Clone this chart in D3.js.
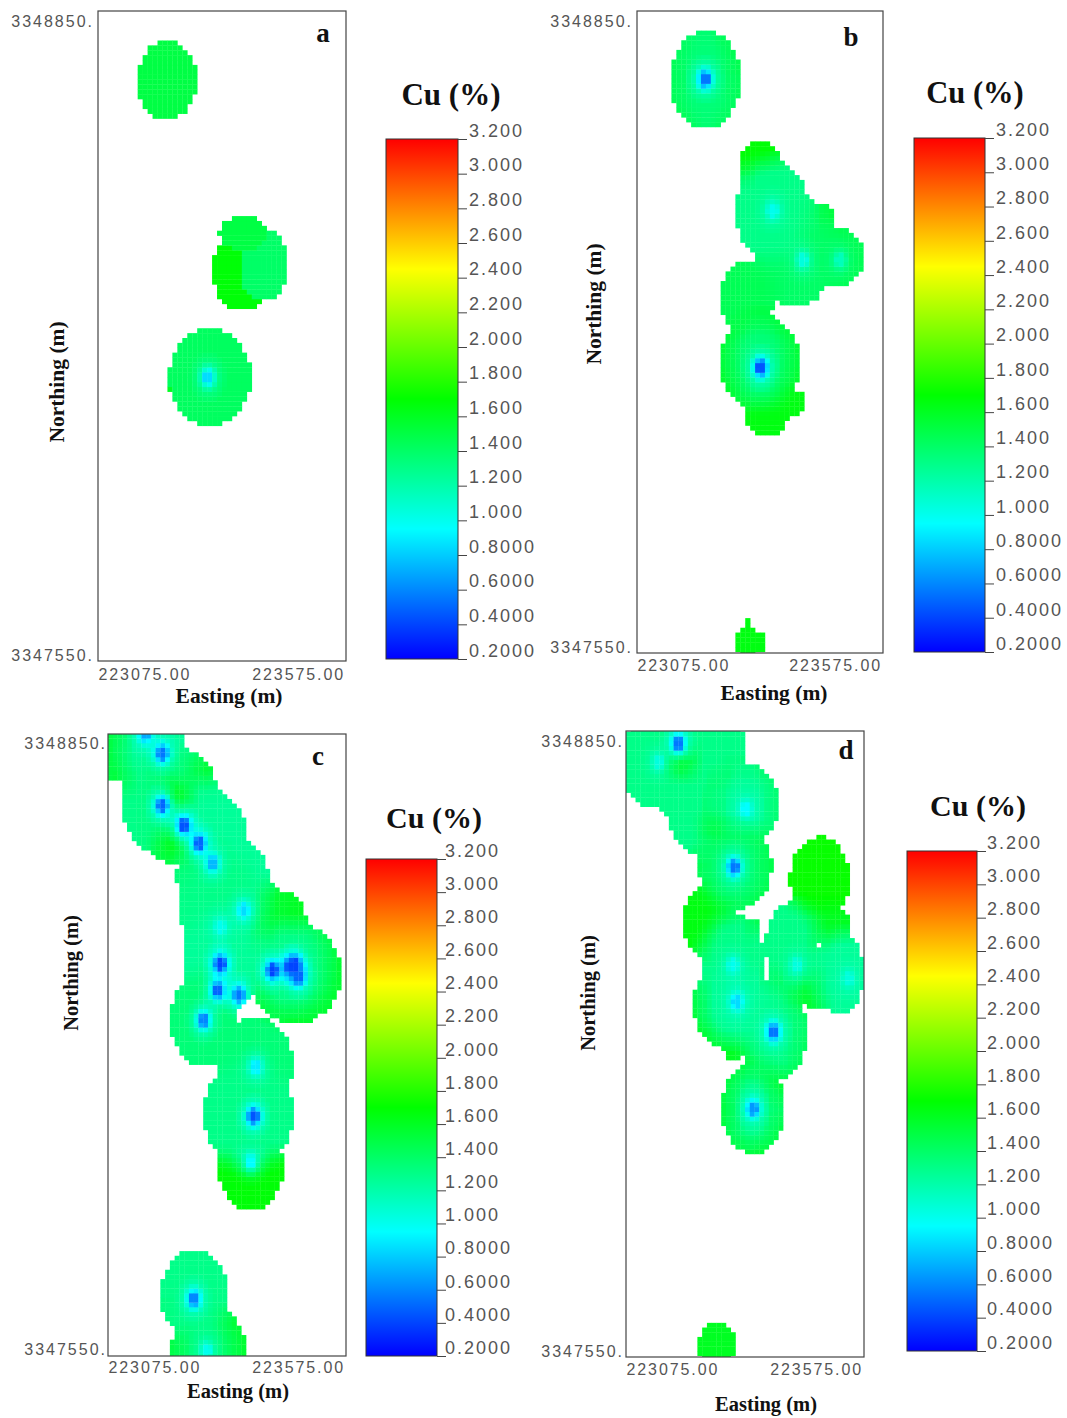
<!DOCTYPE html>
<html>
<head>
<meta charset="utf-8">
<title>Cu (%) block models</title>
<script src="https://cdnjs.cloudflare.com/ajax/libs/d3/7.8.5/d3.min.js"></script>
<style>
	html, body { margin: 0; padding: 0; background: #fff; }
	svg { display: block; }
	.num text { font-family: "Liberation Sans", Arial, sans-serif; fill: #555; }
	.serif { font-family: "Liberation Serif", "Times New Roman", serif; font-weight: bold; fill: #111; }
</style>
</head>
<body>
<svg id="chart" width="1067" height="1418"></svg>
<script>
// values
var eastingTicks = [223075, 223575];
var northingTicks = [3348850, 3347550];
var legendTicks = [3.2, 3.0, 2.8, 2.6, 2.4, 2.2, 2.0, 1.8, 1.6, 1.4, 1.2, 1.0, 0.8, 0.6, 0.4, 0.2];
var colorStops = [0.2, 0.95, 1.7, 2.45, 3.2];
var colorRange = ["#0000ff", "#00ffff", "#00ff00", "#ffff00", "#ff0000"];
var blockSize = 10; // metres

// grade zones, painted in order: easting, northing, radius E, radius N, Cu
var zonesA = [
	[223214, 3348729, 60, 82, 1.5],
	[223365, 3348338, 60, 82, 1.68],
	[223408, 3348350, 48, 74, 1.4],
	[223367, 3348415, 48, 35, 1.5],
	[223232, 3348110, 18, 26, 1.6],
	[223301, 3348120, 82, 100, 1.42]
];
var zonesB = [
	[223214, 3348728, 71, 102, 1.6],
	[223214, 3348728, 60, 100, 1.35],
	[223325, 3348541, 42, 62, 1.68],
	[223447, 3348430, 30, 42, 1.6],
	[223478, 3348358, 58, 62, 1.45],
	[223396, 3348374, 82, 118, 1.4],
	[223349, 3348457, 74, 105, 1.3],
	[223299, 3348277, 56, 75, 1.45],
	[223339, 3348046, 48, 58, 1.65],
	[223396, 3348057, 20, 27, 1.65],
	[223325, 3348142, 82, 98, 1.6],
	[223325, 3348142, 60, 85, 1.35],
	[223303, 3347560, 33, 28, 1.65],
	[223297, 3347595, 6, 15, 1.65]
];
var zonesC = [
	[223122, 3348749, 21, 21, 1.65],
	[223111, 3348835, 77, 68, 1.5],
	[223174, 3348835, 66, 93, 1.25],
	[223188, 3348714, 84, 100, 1.3],
	[223227, 3348756, 74, 79, 1.35],
	[223216, 3348664, 66, 75, 1.35],
	[223244, 3348699, 77, 93, 1.3],
	[223293, 3348642, 77, 100, 1.25],
	[223468, 3348356, 98, 107, 1.55],
	[223444, 3348456, 49, 75, 1.6],
	[223405, 3348478, 56, 72, 1.55],
	[223461, 3348370, 77, 93, 1.3],
	[223321, 3348563, 91, 93, 1.25],
	[223282, 3348563, 63, 71, 1.35],
	[223279, 3348499, 52, 93, 1.3],
	[223314, 3348492, 88, 122, 1.3],
	[223314, 3348385, 80, 114, 1.25],
	[223276, 3348256, 70, 100, 1.35],
	[223375, 3347941, 68, 93, 1.68],
	[223384, 3348163, 80, 100, 1.35],
	[223370, 3348056, 95, 114, 1.3],
	[223220, 3348742, 25, 36, 1.6],
	[223206, 3348631, 28, 32, 1.6],
	[223269, 3348789, 18, 21, 1.6],
	[223286, 3347548, 79, 93, 1.55],
	[223282, 3347540, 56, 79, 1.35],
	[223240, 3347655, 56, 64, 1.6],
	[223256, 3347669, 70, 93, 1.3]
];
var zonesD = [
	[223139, 3348806, 77, 99, 1.3],
	[223251, 3348834, 77, 92, 1.3],
	[223184, 3348778, 63, 92, 1.3],
	[223237, 3348728, 80, 121, 1.3],
	[223192, 3348806, 28, 28, 1.6],
	[223279, 3348763, 18, 21, 1.6],
	[223251, 3348671, 14, 21, 1.55],
	[223482, 3348557, 63, 89, 1.72],
	[223426, 3348359, 49, 78, 1.65],
	[223475, 3348344, 42, 64, 1.55],
	[223496, 3348458, 49, 43, 1.6],
	[223423, 3348415, 56, 92, 1.3],
	[223524, 3348355, 50, 89, 1.25],
	[223325, 3348714, 70, 89, 1.55],
	[223325, 3348714, 60, 82, 1.25],
	[223251, 3348465, 56, 82, 1.65],
	[223304, 3348582, 77, 92, 1.55],
	[223304, 3348582, 65, 80, 1.35],
	[223342, 3348430, 18, 43, 1.65],
	[223272, 3348288, 56, 85, 1.6],
	[223300, 3348202, 21, 35, 1.6],
	[223300, 3348373, 67, 107, 1.3],
	[223384, 3348231, 72, 106, 1.55],
	[223384, 3348231, 60, 95, 1.3],
	[223307, 3348295, 74, 89, 1.25],
	[223342, 3348067, 67, 96, 1.6],
	[223342, 3348067, 50, 82, 1.3],
	[223266, 3347563, 40, 49, 1.6]
];

// drill hole grades: easting, northing, Cu
var holesA = [[223297, 3348120, 0.85]];
var holesB = [
	[223213, 3348730, 0.55], [223351, 3348457, 1.0], [223412, 3348354, 1.05],
	[223488, 3348354, 1.15], [223327, 3348131, 0.45]
];
var holesC = [
	[223189, 3348828, 0.55], [223189, 3348717, 0.5], [223234, 3348674, 0.45], [223267, 3348635, 0.5],
	[223295, 3348593, 0.75], [223360, 3348492, 0.85], [223311, 3348456, 1.0], [223311, 3348377, 0.4],
	[223306, 3348320, 0.5], [223350, 3348310, 0.55], [223276, 3348256, 0.6], [223421, 3348363, 0.4],
	[223458, 3348370, 0.45], [223468, 3348374, 0.4], [223475, 3348349, 0.5], [223386, 3348156, 0.9],
	[223381, 3348050, 0.45], [223375, 3347952, 0.95], [223153, 3348871, 0.7],
	[223256, 3347658, 0.6], [223282, 3347548, 1.0]
];
var holesD = [
	[223185, 3348845, 0.55], [223143, 3348806, 1.05], [223327, 3348706, 0.95], [223302, 3348582, 0.55],
	[223300, 3348373, 1.0], [223308, 3348295, 0.85], [223385, 3348231, 0.55], [223342, 3348067, 0.65],
	[223433, 3348373, 1.05], [223542, 3348344, 1.05]
];

// how far a hole's grade carries into its zone (share of the halo radius -> weight)
var haloReach = [0, 0.2, 0.35, 0.6, 1];
var haloWeight = [1, 1, 0.5, 0.15, 0];
var haloE = 40, haloN = 55;

// page layout of the four panels
var panels = [
	{ name: "a", zones: zonesA, holes: holesA, smooth: 0, labelSize: 21.5, titleSize: 31, left: 98, right: 346, top: 11, bottom: 661, yHigh: 21, yLow: 655, yPad: 4, xLabel: 675, eastX: 229, eastY: 696, northX: 57, northY: 382, markX: 323, markY: 34, titleX: 451, titleY: 95, barL: 386, barR: 458, barT: 139, barB: 659, barGap: 11 },
	{ name: "b", zones: zonesB, holes: holesB, smooth: 2, labelSize: 21.5, titleSize: 30.5, left: 637, right: 883, top: 11, bottom: 653, yHigh: 21, yLow: 647, yPad: 4, xLabel: 666, eastX: 774, eastY: 693, northX: 594, northY: 304, markX: 851, markY: 38, titleX: 975, titleY: 93, barL: 914, barR: 985, barT: 138, barB: 652, barGap: 11 },
	{ name: "c", zones: zonesC, holes: holesC, smooth: 2, labelSize: 20.5, titleSize: 30, left: 108, right: 346, top: 734, bottom: 1356, yHigh: 743, yLow: 1349, yPad: 1, xLabel: 1368, eastX: 238, eastY: 1391, northX: 71, northY: 973, markX: 318, markY: 757, titleX: 434, titleY: 818, barL: 366, barR: 437, barT: 859, barB: 1356, barGap: 8 },
	{ name: "d", zones: zonesD, holes: holesD, smooth: 2, labelSize: 20.5, titleSize: 30, left: 626, right: 864, top: 731, bottom: 1357, yHigh: 741, yLow: 1351, yPad: 2, xLabel: 1370, eastX: 766, eastY: 1404, northX: 588, northY: 993, markX: 846, markY: 751, titleX: 978, titleY: 806, barL: 907, barR: 977, barT: 851, barB: 1351, barGap: 10 }
];

var svg = d3.select("#chart");
var color = d3.scaleLinear().domain(colorStops).range(colorRange);
var halo = d3.scaleLinear().domain(haloReach).range(haloWeight).clamp(true);

var defs = svg.append("defs");
var grad = defs.append("linearGradient").attr("id", "cuRamp").attr("x1", 0).attr("y1", 1).attr("x2", 0).attr("y2", 0);
colorStops.forEach(function(s, i) {
	grad.append("stop").attr("offset", (s - 0.2) / 3).attr("stop-color", colorRange[i]);
});

function blockGrades(p, x, y) {
	var nStart = Math.floor(y.invert(p.bottom) / blockSize) * blockSize;
	var nEnd = y.invert(p.top);
	var eCols = d3.range(eastingTicks[0], eastingTicks[1], blockSize);
	var nRows = d3.range(nStart, nEnd, blockSize);
	var grid = new Map();
	var key = function(i, j) { return i + "_" + j; };

	eCols.forEach(function(e, i) {
		nRows.forEach(function(n, j) {
			var ce = e + blockSize / 2, cn = n + blockSize / 2, cu = null;
			p.zones.forEach(function(z) {
				var dx = (ce - z[0]) / z[2], dy = (cn - z[1]) / z[3];
				if (dx * dx + dy * dy <= 1) cu = z[4];
			});
			if (cu !== null) grid.set(key(i, j), cu);
		});
	});

	// zone edges run soft inside the ore body, the outline stays blocky
	var cells = [];
	eCols.forEach(function(e, i) {
		nRows.forEach(function(n, j) {
			if (!grid.has(key(i, j))) return;
			var near = [];
			d3.range(-p.smooth, p.smooth + 1).forEach(function(a) {
				d3.range(-p.smooth, p.smooth + 1).forEach(function(b) {
					if (grid.has(key(i + a, j + b))) near.push(grid.get(key(i + a, j + b)));
				});
			});
			var cu = d3.mean(near);
			var ce = e + blockSize / 2, cn = n + blockSize / 2;
			p.holes.forEach(function(h) {
				var dx = (ce - h[0]) / haloE, dy = (cn - h[1]) / haloN;
				var w = halo(Math.sqrt(dx * dx + dy * dy));
				cu = Math.min(cu, cu + (h[2] - cu) * w);
			});
			cells.push({ e: e, n: n, cu: cu });
		});
	});
	return cells;
}

function drawPanel(p) {
	var g = svg.append("g").attr("id", "panel-" + p.name);
	var x = d3.scaleLinear().domain(eastingTicks).range([p.left, p.right]);
	var y = d3.scaleLinear().domain([northingTicks[1], northingTicks[0]]).range([p.yLow, p.yHigh]);

	defs.append("clipPath").attr("id", "clip-" + p.name)
		.append("rect")
		.attr("x", p.left).attr("y", p.top)
		.attr("width", p.right - p.left).attr("height", p.bottom - p.top);

	g.append("g").attr("clip-path", "url(#clip-" + p.name + ")")
		.append("g").style("filter", "blur(0.6px)")
		.selectAll("rect")
		.data(blockGrades(p, x, y))
		.enter().append("rect")
		.attr("x", function(d) { return x(d.e); })
		.attr("y", function(d) { return y(d.n + blockSize); })
		.attr("width", function(d) { return x(d.e + blockSize) - x(d.e) + 0.3; })
		.attr("height", function(d) { return y(d.n) - y(d.n + blockSize) + 0.3; })
		.attr("fill", function(d) { return color(d.cu); });

	g.append("rect")
		.attr("x", p.left).attr("y", p.top)
		.attr("width", p.right - p.left).attr("height", p.bottom - p.top)
		.attr("fill", "none").attr("stroke", "#444").attr("stroke-width", 1.2);

	var yAxis = g.append("g").attr("class", "num")
		.attr("transform", "translate(" + p.left + ",0)")
		.call(d3.axisLeft(y).tickValues(northingTicks).tickSize(0).tickPadding(p.yPad).tickFormat(function(d) { return d + "."; }));
	yAxis.select(".domain").remove();
	yAxis.selectAll("text").style("font-size", "16px").style("letter-spacing", "2px");

	var xAxis = g.append("g").attr("class", "num")
		.attr("transform", "translate(0," + p.bottom + ")")
		.call(d3.axisBottom(x).tickValues(eastingTicks).tickSize(0).tickPadding(p.xLabel - p.bottom - 6).tickFormat(function(d) { return d + ".00"; }));
	xAxis.select(".domain").remove();
	xAxis.selectAll("text")
		.style("font-size", "16px").style("letter-spacing", "1.9px")
		.attr("dx", function(d, i) { return i === 0 ? 0 : -1.5; })
		.attr("text-anchor", function(d, i) { return i === 0 ? "start" : "end"; });

	g.append("text").attr("class", "serif")
		.attr("x", p.eastX).attr("y", p.eastY).attr("dy", "0.32em")
		.attr("text-anchor", "middle").style("font-size", p.labelSize + "px")
		.text("Easting (m)");
	g.append("text").attr("class", "serif")
		.attr("transform", "translate(" + p.northX + "," + p.northY + ") rotate(-90)")
		.attr("dy", "0.32em").attr("text-anchor", "middle").style("font-size", p.labelSize + "px")
		.text("Northing (m)");
	g.append("text").attr("class", "serif")
		.attr("x", p.markX).attr("y", p.markY).attr("dy", "0.3em")
		.attr("text-anchor", "middle").style("font-size", "27px")
		.text(p.name);
	g.append("text").attr("class", "serif")
		.attr("x", p.titleX).attr("y", p.titleY).attr("dy", "0.32em")
		.attr("text-anchor", "middle").style("font-size", p.titleSize + "px")
		.text("Cu (%)");

	// colour bar
	var cuScale = d3.scaleLinear().domain([0.2, 3.2]).range([p.barB, p.barT]);
	g.append("rect")
		.attr("x", p.barL).attr("y", p.barT)
		.attr("width", p.barR - p.barL).attr("height", p.barB - p.barT)
		.attr("fill", "url(#cuRamp)").attr("stroke", "#333").attr("stroke-width", 1);

	var legend = g.append("g").attr("class", "num")
		.attr("transform", "translate(" + p.barR + ",0)")
		.call(d3.axisRight(cuScale).tickValues(legendTicks).tickSize(9).tickPadding(p.barGap - 9)
			.tickFormat(function(d) { return d >= 1 ? d.toFixed(3) : d.toFixed(4); }));
	legend.select(".domain").remove();
	legend.selectAll("line").attr("stroke", "#444");
	legend.selectAll("text")
		.attr("dy", "-0.15em")
		.style("font-size", "18px").style("letter-spacing", "2px");
}

panels.forEach(drawPanel);
</script>
</body>
</html>
